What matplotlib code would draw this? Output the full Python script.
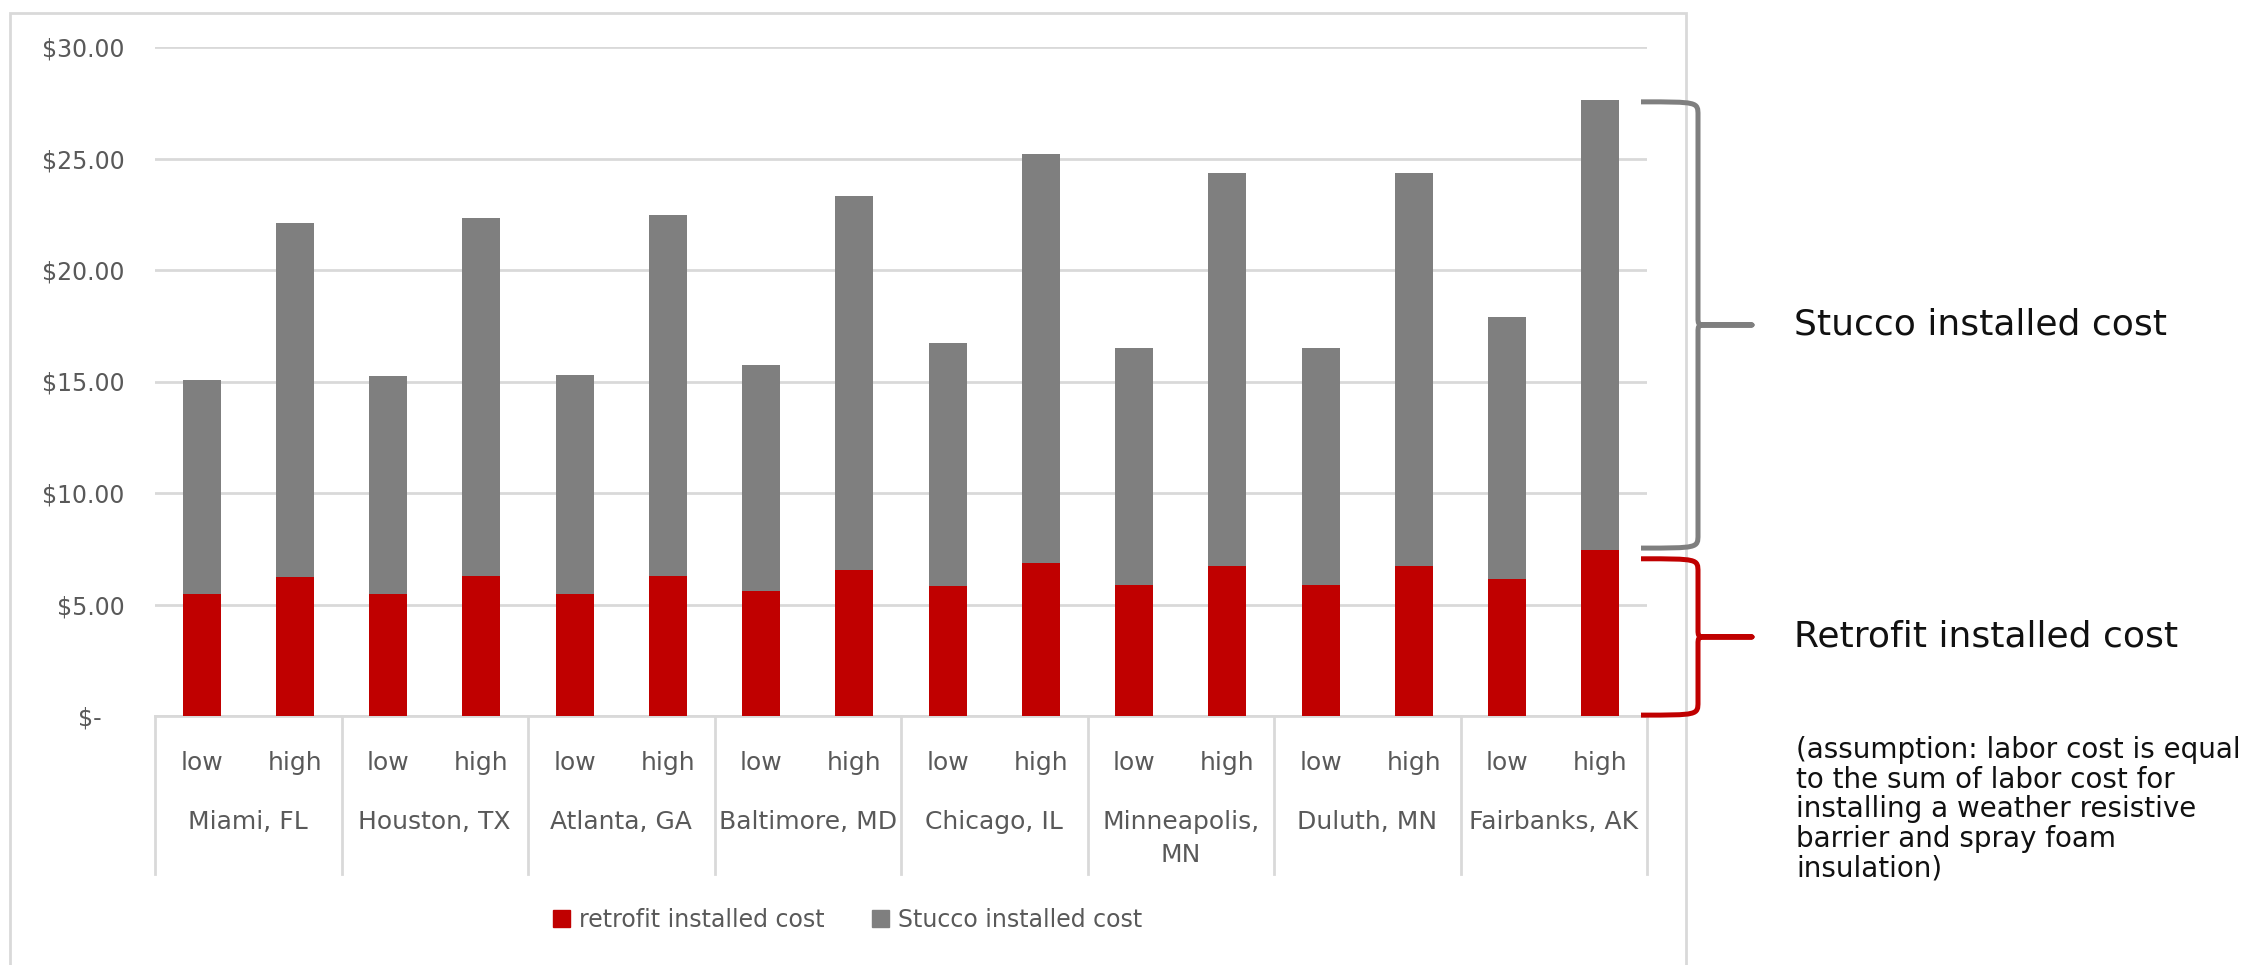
import numpy as np
import matplotlib
matplotlib.use("Agg")
import matplotlib.pyplot as plt
import matplotlib.transforms as mtransforms
from matplotlib.path import Path
from matplotlib.patches import PathPatch, Rectangle, Patch

# data
cities = ["Miami, FL", "Houston, TX", "Atlanta, GA", "Baltimore, MD",
          "Chicago, IL", "Minneapolis,\nMN", "Duluth, MN", "Fairbanks, AK"]
levels = ["low", "high"]
retrofit = [5.47, 6.23, 5.47, 6.30, 5.47, 6.30, 5.60, 6.53,
            5.81, 6.87, 5.87, 6.72, 5.87, 6.72, 6.15, 7.45]
stucco = [9.59, 15.90, 9.76, 16.02, 9.83, 16.15, 10.14, 16.79,
          10.91, 18.34, 10.62, 17.64, 10.62, 17.64, 11.76, 20.19]
yticks = [0, 5, 10, 15, 20, 25, 30]

RED = "#C00000"
GRAY = "#7F7F7F"
LIGHT = "#D9D9D9"
TXT = "#595959"
W, H = 2245, 965

plt.rcParams['font.family'] = ['DejaVu Sans']


def brace(ax, y0, y1, xl, xm, xt, color, r=0.6):
    # curly brace, x in figure fraction, y in data units
    ym = (y0 + y1) / 2
    dx = (xt - xm) * 0.2
    rm = 0.35
    verts = [(xl, y1), (xm, y1), (xm, y1), (xm, y1 - r),
             (xm, ym + rm), (xm, ym), (xm, ym), (xm + dx, ym),
             (xt, ym), (xm + dx, ym),
             (xm, ym), (xm, ym), (xm, ym - rm),
             (xm, y0 + r), (xm, y0), (xm, y0), (xl, y0)]
    codes = [Path.MOVETO, Path.CURVE4, Path.CURVE4, Path.CURVE4,
             Path.LINETO, Path.CURVE4, Path.CURVE4, Path.CURVE4,
             Path.LINETO, Path.LINETO,
             Path.CURVE4, Path.CURVE4, Path.CURVE4,
             Path.LINETO, Path.CURVE4, Path.CURVE4, Path.CURVE4]
    tr = mtransforms.blended_transform_factory(fig.transFigure, ax.transData)
    p = PathPatch(Path(verts, codes), transform=tr, fill=False, edgecolor=color,
                  lw=3.6, capstyle='butt', joinstyle='round', clip_on=False)
    fig.add_artist(p)
    return ym


fig = plt.figure(figsize=(W / 100, H / 100), dpi=100)
ax = fig.add_axes([155 / W, 1 - 716 / H, (1647 - 155) / W, (716 - 47) / H])

# outer chart frame
fig.add_artist(Rectangle((10 / W, -0.05), (1686 - 10) / W, 1.05 - 13 / H,
                         transform=fig.transFigure, fill=False,
                         edgecolor=LIGHT, lw=2))

x = np.arange(len(retrofit))
ax.bar(x, retrofit, width=0.41, color=RED, lw=0, zorder=3)
ax.bar(x, stucco, width=0.41, bottom=retrofit, color=GRAY, lw=0, zorder=3)

ax.set_xlim(-0.5, len(x) - 0.5)
ax.set_ylim(0, 30)
ax.set_yticks(yticks)
ax.set_yticklabels(["$-   " if v == 0 else "${:.2f}".format(v) for v in yticks])
ax.tick_params(axis='y', length=0, pad=22, labelsize=17, labelcolor=TXT)
ax.set_xticks([])
ax.grid(axis='y', color=LIGHT, lw=2, zorder=0)
for s in ['top', 'right', 'left']:
    ax.spines[s].set_visible(False)
ax.spines['bottom'].set_color(LIGHT)
ax.spines['bottom'].set_linewidth(2)

# two-level category axis
trx = mtransforms.blended_transform_factory(ax.transData, ax.transAxes)
for b in np.arange(-0.5, len(x), 2):
    ax.plot([b, b], [0, -0.236], transform=trx, color=LIGHT, lw=2, clip_on=False)
for i in x:
    ax.text(i, -0.071, levels[i % 2], transform=trx, ha='center', va='center',
            fontsize=18, color=TXT)
for j, c in enumerate(cities):
    ax.text(2 * j + 0.5, -0.140, c, transform=trx, ha='center', va='top',
            fontsize=18, color=TXT, linespacing=1.5)

# legend
handles = [Patch(color=RED), Patch(color=GRAY)]
fig.legend(handles, ["retrofit installed cost", "Stucco installed cost"],
           loc='center', bbox_to_anchor=(848 / W, 1 - 920 / H), ncol=2,
           frameon=False, fontsize=17, labelcolor=TXT, handlelength=0.7,
           handleheight=0.7, handletextpad=0.4, columnspacing=2.0)

# braces and annotations
xl, xm, xt = 1641 / W, 1698 / W, 1752 / W
top = retrofit[-1] + stucco[-1]
ym1 = brace(ax, retrofit[-1] + 0.08, top - 0.1, xl, xm, xt, GRAY)
ym2 = brace(ax, 0.04, retrofit[-1] - 0.4, xl, xm, xt, RED)
tr = mtransforms.blended_transform_factory(fig.transFigure, ax.transData)
fig.text(1794 / W, 0, "Stucco installed cost", fontsize=26, color="#111111",
         va='center', transform=tr).set_y(ym1)
fig.text(1794 / W, 0, "Retrofit installed cost", fontsize=26, color="#111111",
         va='center', transform=tr).set_y(ym2)
fig.text(1796 / W, 1 - 736 / H,
         "(assumption: labor cost is equal\nto the sum of labor cost for\n"
         "installing a weather resistive\nbarrier and spray foam\ninsulation)",
         fontsize=20, color="#111111", va='top', ha='left', linespacing=1.07)

fig.savefig("out.png", dpi=100)
